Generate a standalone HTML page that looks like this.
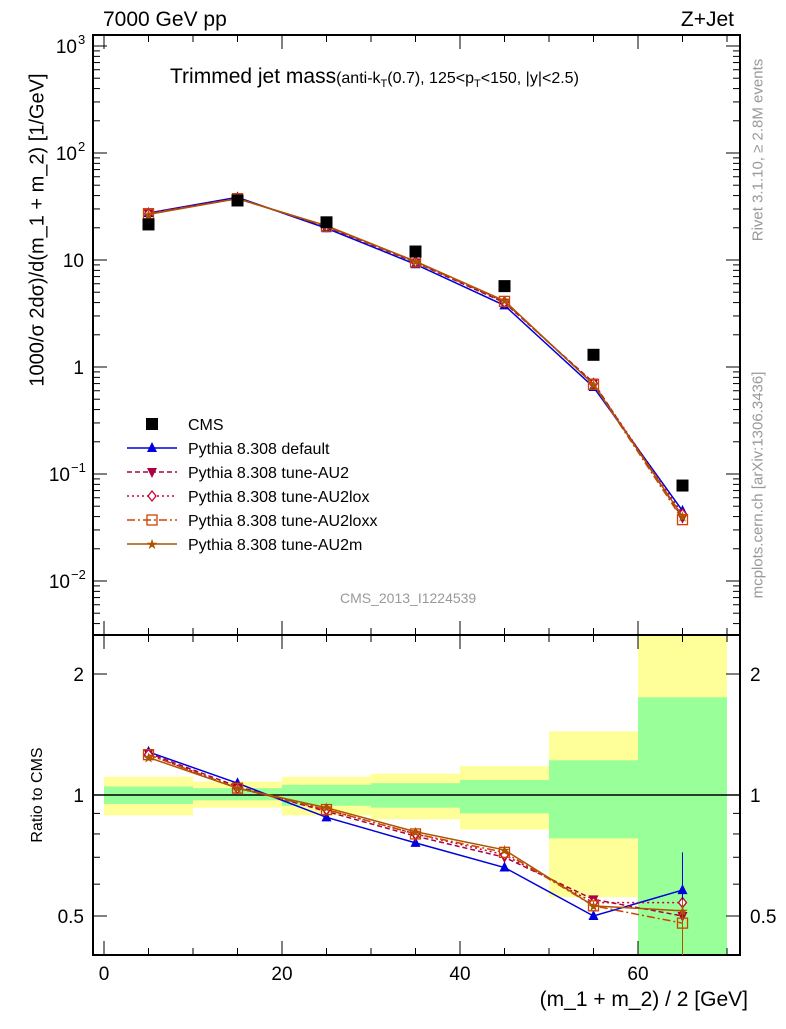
<!DOCTYPE html>
<html><head><meta charset="utf-8"><style>
body{margin:0;background:#fff;}
svg text{font-family:"Liberation Sans",sans-serif;}
</style></head><body>
<svg id="c" width="786" height="1024" xmlns="http://www.w3.org/2000/svg"></svg>
<script>
const binCenters=[5,15,25,35,45,55,65];
const cmsValues=[21.5,36,22.5,12,5.7,1.3,0.078];
const ratioDefault=[1.28,1.07,0.88,0.76,0.66,0.50,0.58];
const ratioAU2=[1.27,1.05,0.91,0.79,0.70,0.55,0.50];
const ratioAU2lox=[1.26,1.04,0.92,0.80,0.71,0.54,0.54];
const ratioAU2loxx=[1.26,1.04,0.92,0.80,0.72,0.53,0.48];
const ratioAU2m=[1.24,1.04,0.93,0.81,0.73,0.53,0.515];
const bandEdges=[0,10,20,30,40,50,60,70];
const yellowHi=[1.11,1.08,1.11,1.13,1.18,1.44,3];
const yellowLo=[0.89,0.93,0.89,0.87,0.82,0.557,0.3];
const greenHi=[1.05,1.04,1.06,1.07,1.09,1.22,1.75];
const greenLo=[0.95,0.97,0.94,0.93,0.90,0.78,0.3];
const xTicks=[0,20,40,60];
const mainTicks=[-2,-1,0,1,2,3];
const ratioTicks=[0.5,1,2];

const svg=document.getElementById('c');
const NS='http://www.w3.org/2000/svg';
function el(t,a,p){const e=document.createElementNS(NS,t);for(const k in a)e.setAttribute(k,a[k]);(p||svg).appendChild(e);return e;}
const L=93,R=740,T=35,M=635,B=955;
const X=v=>104+(v)*8.9;
const Y=v=>367-Math.log10(v)*107;
const RY=v=>795-Math.log2(v)*121;

const bands=el('g',{});


for(let i=0;i<7;i++){
  const x0=X(bandEdges[i]),x1=X(bandEdges[i+1]);
  const yt=Math.max(M,RY(yellowHi[i])),yb=Math.min(B,RY(yellowLo[i]));
  const r1=el('rect',{x:x0,y:yt,width:x1-x0,height:yb-yt,fill:'#ffff99'},bands);
  
  
  const gt=Math.max(M,RY(greenHi[i])),gb=Math.min(B,RY(greenLo[i]));
  const r2=el('rect',{x:x0,y:gt,width:x1-x0,height:gb-gt,fill:'#99ff99'},bands);
  
  
}
el('line',{x1:L,x2:R,y1:RY(1),y2:RY(1),stroke:'#000','stroke-width':1.5});

el('rect',{x:L,y:T,width:R-L,height:M-T,fill:'none',stroke:'#000','stroke-width':2});
el('rect',{x:L,y:M,width:R-L,height:B-M,fill:'none',stroke:'#000','stroke-width':2});

for(let v=0;v<=70;v+=5){
  const len=v%20===0?14:7;
  for(const [y0,d] of [[M,-1],[T,1],[B,-1],[M,1]]) el('line',{x1:X(v),x2:X(v),y1:y0,y2:y0+d*len,stroke:'#000'});
}
xTicks.forEach(v=>{const t=el('text',{x:X(v),y:980,'font-size':19,'text-anchor':'middle'});t.textContent=v;
});
for(let d=-3;d<=3;d++){for(let m=1;m<10;m++){const v=m*Math.pow(10,d);const y=Y(v);if(y<T||y>M)continue;const len=m===1?14:7;
el('line',{x1:L,x2:L+len,y1:y,y2:y,stroke:'#000'});el('line',{x1:R,x2:R-len,y1:y,y2:y,stroke:'#000'});}}
const sup={'-2':'−2','-1':'−1','2':'2','3':'3'};
mainTicks.forEach(d=>{
  const y=Y(Math.pow(10,d))+7;
  if(d===0||d===1){const t=el('text',{x:84,y:y,'font-size':19,'text-anchor':'end'});t.textContent=d===0?'1':'10';
    }
  else{
    const s=sup[d];
    const sx=84-s.length*7;
    const t=el('text',{x:sx,y:y,'font-size':19,'text-anchor':'end'});t.textContent='10';
    
    const e=el('text',{x:sx+1,y:y-9,'font-size':13});e.textContent=s;
    
  }
});
[0.4,0.5,0.6,0.7,0.8,0.9,1,2].forEach(v=>{const y=RY(v);if(y>B)return;const len=(v===0.5||v===1||v===2)?14:7;
el('line',{x1:L,x2:L+len,y1:y,y2:y,stroke:'#000'});el('line',{x1:R,x2:R-len,y1:y,y2:y,stroke:'#000'});});
ratioTicks.forEach(v=>{for(const [x,a] of [[84,'end'],[750,'start']]){const t=el('text',{x:x,y:RY(v)+7,'font-size':19,'text-anchor':a});t.textContent=v;
}});

const series=[
 {n:'default',r:ratioDefault,c:'#0000dd',dash:'',m:'tri',label:'Pythia 8.308 default'},
 {n:'au2',r:ratioAU2,c:'#aa0044',dash:'5,3',m:'itri',label:'Pythia 8.308 tune-AU2'},
 {n:'au2lox',r:ratioAU2lox,c:'#cc0033',dash:'2,3',m:'dia',label:'Pythia 8.308 tune-AU2lox'},
 {n:'au2loxx',r:ratioAU2loxx,c:'#cc4400',dash:'8,3,2,3',m:'sq',label:'Pythia 8.308 tune-AU2loxx'},
 {n:'au2m',r:ratioAU2m,c:'#aa5500',dash:'',m:'star',label:'Pythia 8.308 tune-AU2m'}];
function marker(g,type,x,y,c){
  if(type==='tri')el('polygon',{points:`${x},${y-6} ${x-5},${y+4} ${x+5},${y+4}`,fill:c},g);
  else if(type==='itri')el('polygon',{points:`${x},${y+6} ${x-5},${y-4} ${x+5},${y-4}`,fill:c},g);
  else if(type==='dia')el('polygon',{points:`${x},${y-5} ${x-4},${y} ${x},${y+5} ${x+4},${y}`,fill:'#fff',stroke:c,'stroke-width':1.3},g);
  else if(type==='sq')el('rect',{x:x-5,y:y-5,width:10,height:10,fill:'none',stroke:c,'stroke-width':1.3},g);
  else el('text',{x:x,y:y+5,'font-size':14,'text-anchor':'middle',fill:c},g).textContent='★';
}
series.forEach((s,si)=>{
  const g=el('g',{});
  
  
  const mainPts=binCenters.map((x,i)=>X(x)+','+Y(s.r[i]*cmsValues[i])).join(' ');
  const ratPts=binCenters.map((x,i)=>X(x)+','+RY(s.r[i])).join(' ');
  el('polyline',{points:mainPts,fill:'none',stroke:s.c,'stroke-width':1.5,'stroke-dasharray':s.dash},g);
  el('polyline',{points:ratPts,fill:'none',stroke:s.c,'stroke-width':1.5,'stroke-dasharray':s.dash},g);
  binCenters.forEach((x,i)=>{
    marker(g,s.m,X(x),Y(s.r[i]*cmsValues[i]),s.c);
    marker(g,s.m,X(x),RY(s.r[i]),s.c);
  });
  const li=el('g',{});
  
  
  const ly=448+si*24;
  el('line',{x1:127,x2:177,y1:ly,y2:ly,stroke:s.c,'stroke-width':1.5,'stroke-dasharray':s.dash},li);
  marker(li,s.m,152,ly,s.c);
  const t=el('text',{x:188,y:ly+6,'font-size':16},li);t.textContent=s.label;
});
el('line',{x1:X(65),x2:X(65),y1:RY(0.66),y2:B,stroke:'#aa5500'});
el('line',{x1:X(65),x2:X(65),y1:RY(0.72),y2:RY(0.55),stroke:'#0000dd'});
const dg=el('g',{});


binCenters.forEach((x,i)=>el('rect',{x:X(x)-6,y:Y(cmsValues[i])-6,width:12,height:12,fill:'#000'},dg));
const lc=el('g',{});


el('rect',{x:146,y:418,width:12,height:12,fill:'#000'},lc);
el('text',{x:188,y:430,'font-size':16},lc).textContent='CMS';
</script>
<div style="position:absolute;left:0;top:0;width:786px;height:1024px;font-family:'Liberation Sans',sans-serif;pointer-events:none">
<div style="position:absolute;left:103px;top:8px;font-size:21px">7000 GeV pp</div>
<div style="position:absolute;right:52px;top:8px;font-size:21px">Z+Jet</div>
<div style="position:absolute;left:170px;top:65px;font-size:21px;white-space:nowrap">Trimmed jet mass<span style="font-size:16px">(anti-k<sub style="font-size:11px">T</sub>(0.7), 125&lt;p<sub style="font-size:11px">T</sub>&lt;150, |y|&lt;2.5)</span></div>
<div style="position:absolute;left:340px;top:590px;font-size:14px;color:#999">CMS_2013_I1224539</div>
<div style="position:absolute;left:38px;top:230px;width:0;height:0"><div style="position:absolute;transform:translate(-50%,-50%) rotate(-90deg);white-space:nowrap;font-size:20px">1000/σ 2dσ)/d(m_1 + m_2) [1/GeV]</div></div>
<div style="position:absolute;left:38px;top:795px;width:0;height:0"><div style="position:absolute;transform:translate(-50%,-50%) rotate(-90deg);white-space:nowrap;font-size:16px">Ratio to CMS</div></div>
<div style="position:absolute;right:38px;top:988px;font-size:21px">(m_1 + m_2) / 2 [GeV]</div>
<div style="position:absolute;left:758px;top:150px;width:0;height:0"><div style="position:absolute;transform:translate(-50%,-50%) rotate(-90deg);white-space:nowrap;font-size:15px;color:#999">Rivet 3.1.10, ≥ 2.8M events</div></div>
<div style="position:absolute;left:758px;top:485px;width:0;height:0"><div style="position:absolute;transform:translate(-50%,-50%) rotate(-90deg);white-space:nowrap;font-size:15px;color:#999">mcplots.cern.ch [arXiv:1306.3436]</div></div>
</div>
</body></html>
